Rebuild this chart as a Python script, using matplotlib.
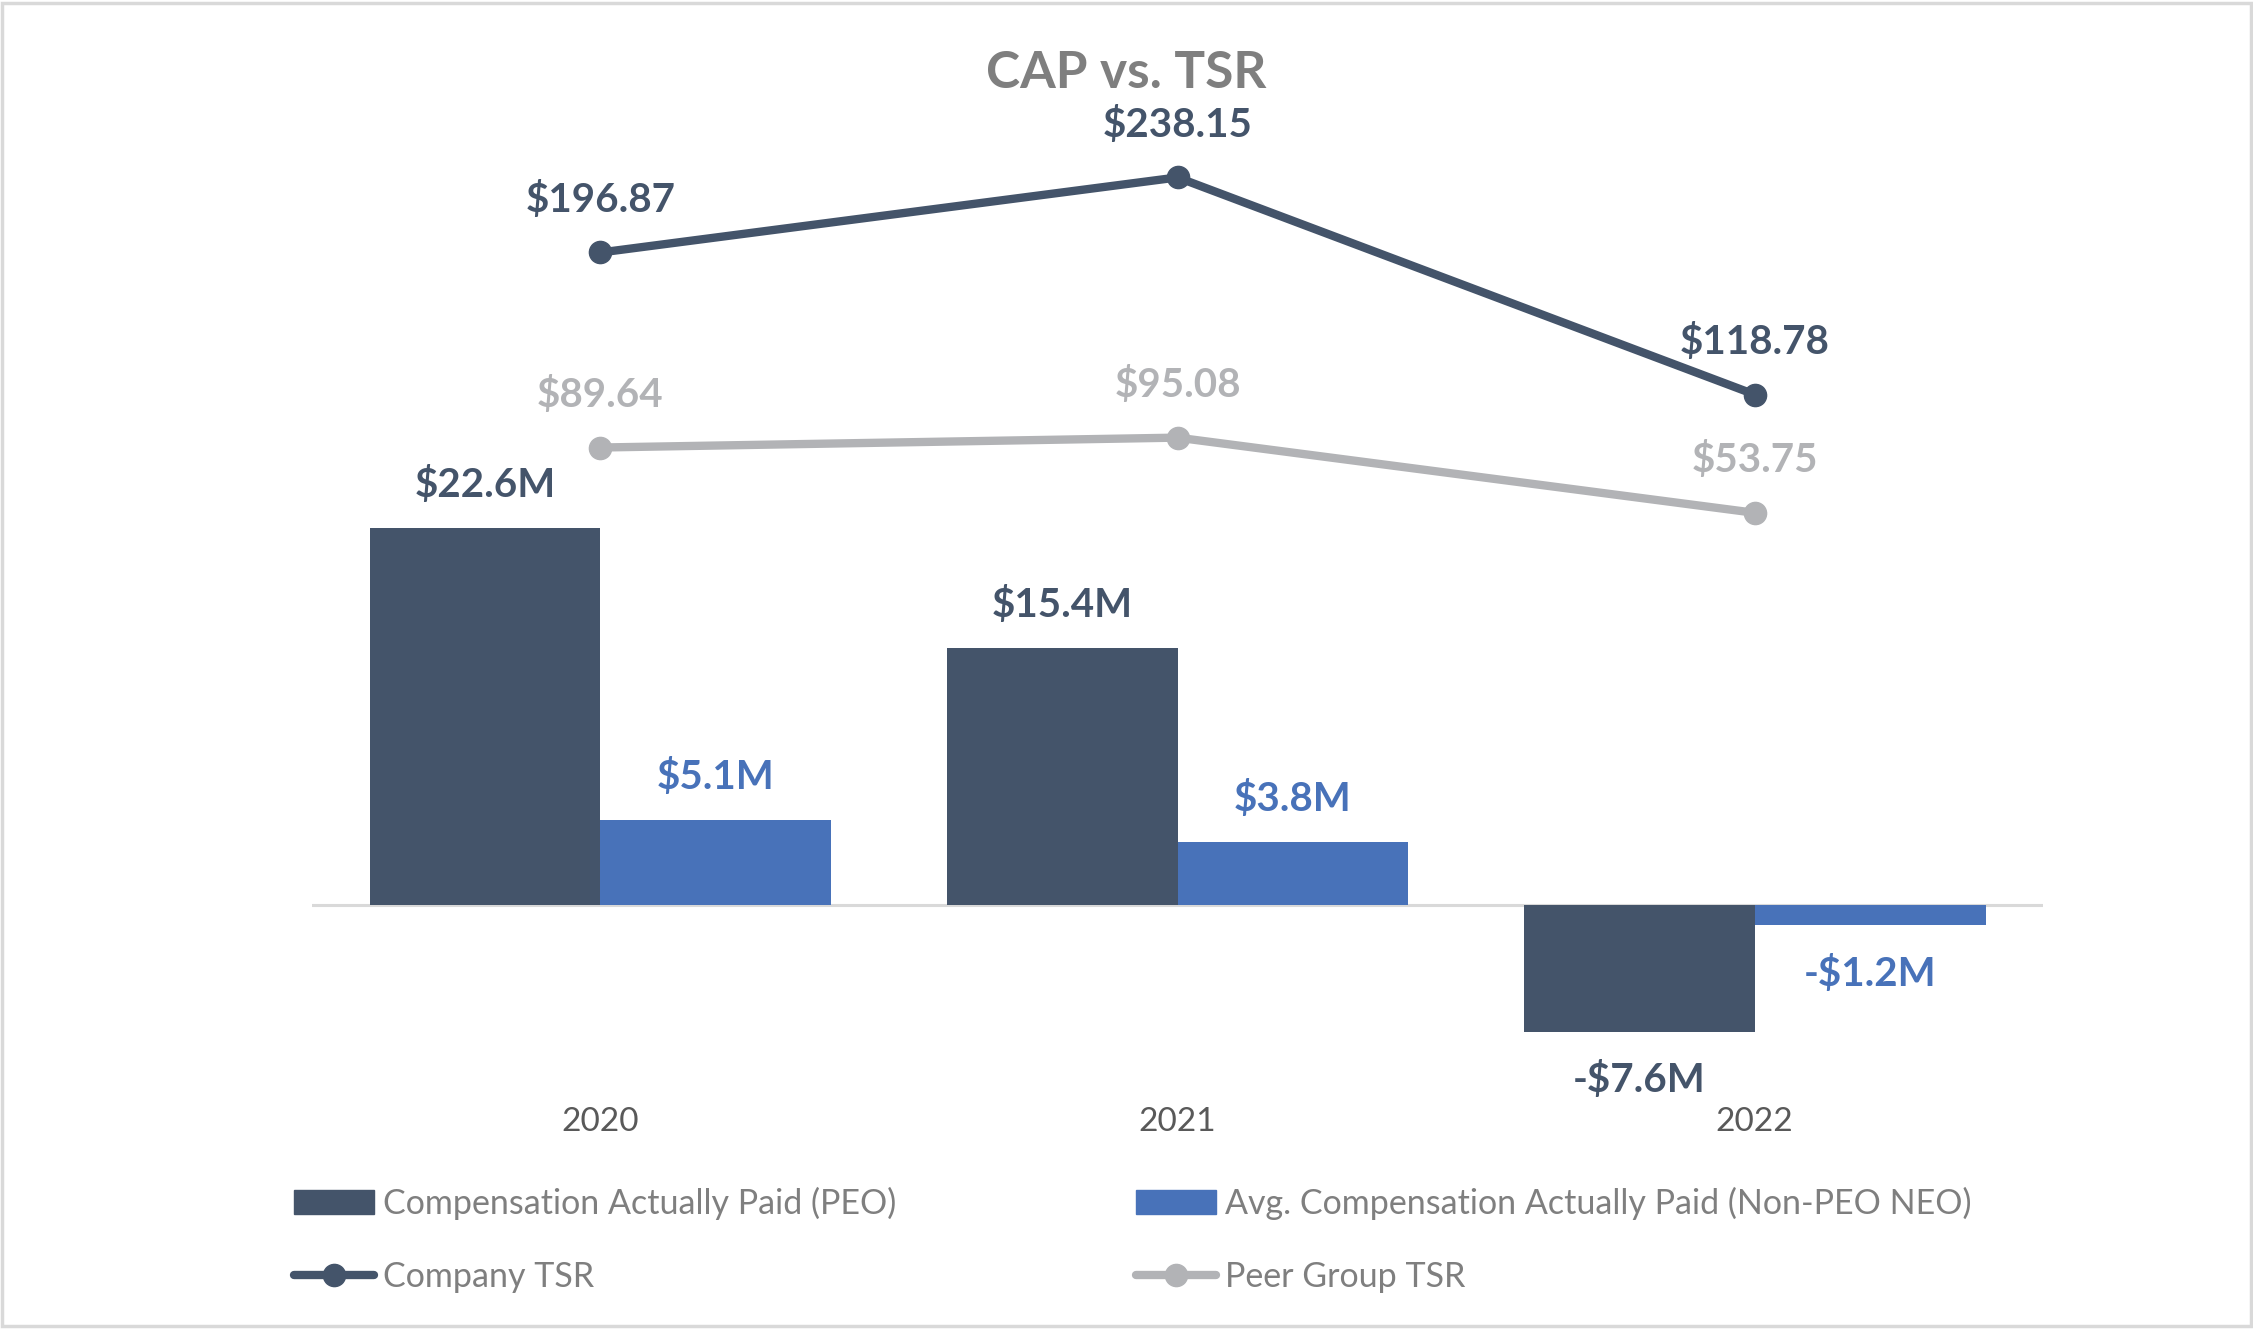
import matplotlib.pyplot as plt
from matplotlib.lines import Line2D
from matplotlib.patches import Patch, Rectangle

years = ['2020', '2021', '2022']
cap_peo = [22.6, 15.4, -7.6]
cap_neo = [5.1, 3.8, -1.2]
company_tsr = [196.87, 238.15, 118.78]
peer_tsr = [89.64, 95.08, 53.75]

DARK = '#44546a'
BLUE = '#4872b9'
GRAY = '#b2b3b6'
TEXT = '#7f7f7f'

plt.rcParams['font.family'] = ['Lato', 'DejaVu Sans']

fig = plt.figure(figsize=(22.53, 13.29), dpi=100)
ax = fig.add_axes([0.1384, 0.173, 0.7685, 0.7297])
ax2 = ax.twinx()

x = list(range(len(years)))
w = 0.4
ax.bar([i - w / 2 for i in x], cap_peo, width=w, color=DARK, zorder=2)
ax.bar([i + w / 2 for i in x], cap_neo, width=w, color=BLUE, zorder=2)
ax.axhline(0, color='#d9d9d9', lw=2.2, zorder=1)

ax.set_xlim(-0.5, 2.5)
ax.set_ylim(-11.64, 46.55)
ax2.set_ylim(-268.6, 264.6)

for a in (ax, ax2):
    for s in a.spines.values():
        s.set_visible(False)
    a.set_yticks([])

ax.set_xticks(x)
ax.set_xticklabels(years, fontsize=24, color='#595959')
ax.tick_params(axis='x', length=0, pad=6)

# bar labels
for i in x:
    for val, xo, col in ((cap_peo[i], -w / 2, DARK), (cap_neo[i], w / 2, BLUE)):
        txt = f"-${abs(val):.1f}M" if val < 0 else f"${val:.1f}M"
        off = 31 if val >= 0 else -35
        ax.annotate(txt, (i + xo, val), xytext=(0, off), textcoords='offset points',
                    ha='center', va='center', fontsize=29, fontweight='bold', color=col)

# TSR lines
ax2.plot(x, company_tsr, color=DARK, lw=6, marker='o', ms=16,
         solid_capstyle='round', zorder=3)
ax2.plot(x, peer_tsr, color=GRAY, lw=6, marker='o', ms=16,
         solid_capstyle='round', zorder=3)
for i in x:
    ax2.annotate(f"${company_tsr[i]:.2f}", (i, company_tsr[i]), xytext=(0, 38),
                 textcoords='offset points', ha='center', va='center',
                 fontsize=29, fontweight='bold', color=DARK)
    ax2.annotate(f"${peer_tsr[i]:.2f}", (i, peer_tsr[i]), xytext=(0, 38),
                 textcoords='offset points', ha='center', va='center',
                 fontsize=29, fontweight='bold', color=GRAY)

fig.text(0.5, 0.945, 'CAP vs. TSR', ha='center', va='center', fontsize=37,
         fontweight='bold', color=TEXT)

handles = [
    Patch(color=DARK),
    Line2D([], [], color=DARK, lw=6, marker='o', ms=16, solid_capstyle='round'),
    Patch(color=BLUE),
    Line2D([], [], color=GRAY, lw=6, marker='o', ms=16, solid_capstyle='round'),
]
labels = ['Compensation Actually Paid (PEO)', 'Company TSR',
          'Avg. Compensation Actually Paid (Non-PEO NEO)', 'Peer Group TSR']
leg = fig.legend(handles, labels, ncol=2, loc='upper left',
                 bbox_to_anchor=(0.1307, 1 - 826 / 925), frameon=False,
                 fontsize=24.5, handlelength=2.35, handletextpad=0.25,
                 labelspacing=1.2, columnspacing=7.05, borderpad=0,
                 borderaxespad=0)
for t in leg.get_texts():
    t.set_color(TEXT)

fig.patches.append(Rectangle((0.001, 0.002), 0.998, 0.996, transform=fig.transFigure,
                             fill=False, edgecolor='#d9d9d9', lw=2.5))

fig.savefig('out.png', dpi=100, facecolor='white')
